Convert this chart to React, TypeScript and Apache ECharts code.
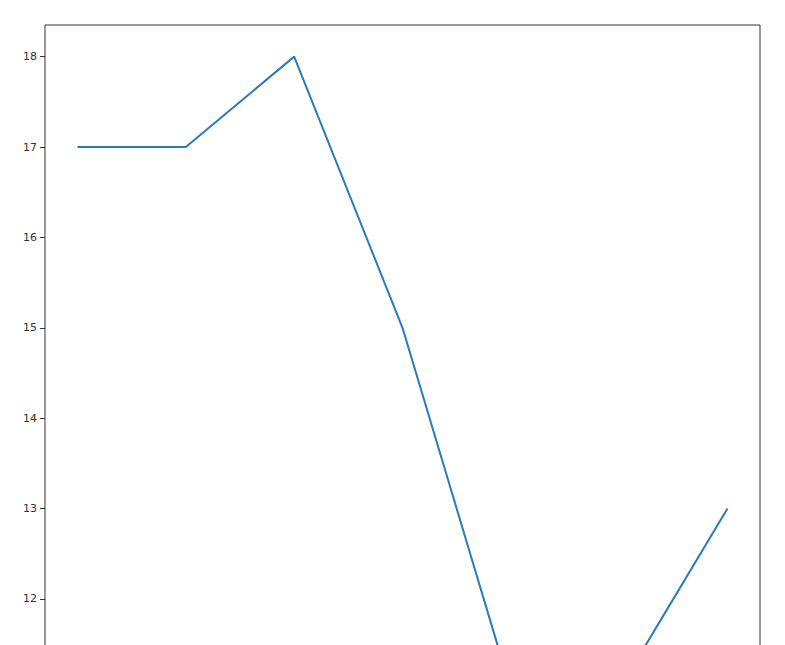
import React, { useEffect, useRef } from 'react';
import * as echarts from 'echarts';

// x positions (index) and the plotted values
const xValues = [0, 1, 2, 3, 4, 5, 6];
const yValues = [17, 17, 18, 15, 11, 11, 13];
// ticks that fall inside the visible window
const yTicks = [12, 13, 14, 15, 16, 17, 18];

const App = () => {
  const chartRef = useRef<HTMLDivElement>(null);

  useEffect(() => {
    if (!chartRef.current) return;
    const chart = echarts.init(chartRef.current, undefined, { renderer: 'svg' });

    const option = {
      animation: false,
      backgroundColor: '#ffffff',
      // the axes run past the bottom of the window, as in the cropped original
      grid: {
        left: 45,
        top: 25,
        right: 25,
        bottom: 19,
        show: true,
        borderColor: '#333333',
        borderWidth: 1,
        backgroundColor: 'transparent'
      },
      xAxis: {
        type: 'value',
        min: -0.3,
        max: 6.3,
        axisLine: { show: false },
        axisTick: { show: false },
        axisLabel: { show: false },
        splitLine: { show: false }
      },
      yAxis: {
        type: 'value',
        min: 10.65,
        max: 18.35,
        axisLine: { show: false, onZero: false },
        axisTick: {
          show: true,
          length: 5,
          customValues: yTicks,
          lineStyle: { color: '#333333' }
        },
        axisLabel: {
          show: true,
          customValues: yTicks,
          margin: 8,
          fontSize: 11,
          color: '#333333',
          fontFamily: 'DejaVu Sans'
        },
        splitLine: { show: false }
      },
      series: [
        {
          type: 'line',
          data: xValues.map((x, i) => [x, yValues[i]]),
          showSymbol: false,
          symbol: 'none',
          lineStyle: { color: '#2b7bba', width: 2 },
          itemStyle: { color: '#2b7bba' }
        }
      ]
    };

    chart.setOption(option);
    return () => chart.dispose();
  }, []);

  return (
    <div
      ref={chartRef}
      style={{ position: 'fixed', left: 0, top: 0, width: 785, height: 740 }}
    />
  );
};

export default App;
